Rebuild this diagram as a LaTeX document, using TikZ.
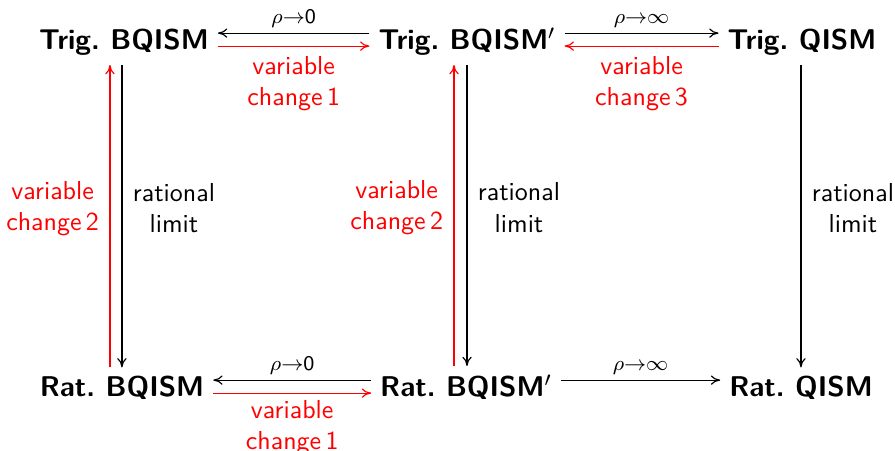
\documentclass[tikz,border=0pt]{standalone}
\usepackage{xcolor}
\usetikzlibrary{arrows.meta}
\begin{document}
\begin{tikzpicture}[x=0.385pt,y=-0.385pt,
  obj/.style={font=\fontsize{11}{13}\selectfont\sffamily\bfseries, anchor=base, inner sep=3.3pt},
  lab/.style={font=\sffamily, align=center, inner sep=1pt},
  rlab/.style={lab, text=red},
  small/.style={font=\fontsize{8}{9.6}\selectfont\sffamily, inner sep=1pt},
  arr/.style={-{Computer Modern Rightarrow[length=3.6pt,width=3.6pt]}, line width=0.45pt},
  rarr/.style={arr, draw=red}]
\useasboundingbox (0,0) rectangle (895,451);
\node[obj] (T1) at (124,50) {Trig.\ BQISM};
\node[obj] (T2) at (467,50) {Trig.\ BQISM$'$};
\node[obj] (T3) at (802,50) {Trig.\ QISM};
\node[obj] (R1) at (122,397) {Rat.\ BQISM};
\node[obj] (R2) at (466,397) {Rat.\ BQISM$'$};
\node[obj] (R3) at (801,397) {Rat.\ QISM};
% top row
\draw[arr] ([yshift=6.5pt]T2.base west) -- node[small, above=1pt] {$\rho{\to}$0} ([yshift=6.5pt]T1.base east);
\draw[rarr] ([yshift=1.5pt]T1.base east) -- node[rlab, below=2.8pt] {variable\\change\,1} ([yshift=1.5pt]T2.base west);
\draw[arr] ([yshift=6.5pt]T2.base east) -- node[small, above=1pt] {$\rho{\to}\infty$} ([yshift=6.5pt]T3.base west);
\draw[rarr] ([yshift=1.5pt]T3.base west) -- node[rlab, below=2.8pt] {variable\\change\,3} ([yshift=1.5pt]T2.base east);
% bottom row
\draw[arr] ([yshift=6.5pt]R2.base west) -- node[small, above=1pt] {$\rho{\to}$0} ([yshift=6.5pt]R1.base east);
\draw[rarr] ([yshift=1.5pt]R1.base east) -- node[rlab, below=1.6pt] {variable\\change\,1} ([yshift=1.5pt]R2.base west);
\draw[arr] ([yshift=6.5pt]R2.base east) -- node[small, above=1pt] {$\rho{\to}\infty$} ([yshift=6.5pt]R3.base west);
% verticals
\draw[arr] ([xshift=-0.8pt]T1.south) -- node[lab, right=3pt, yshift=3pt] {rational\\limit} ([xshift=-0.8pt]T1.south |- R1.north);
\draw[rarr] ([xshift=-5.4pt]T1.south |- R1.north) -- node[rlab, left=3pt, yshift=3pt] {variable\\change\,2} ([xshift=-5.4pt]T1.south);
\draw[arr] ([xshift=0pt]T2.south) -- node[lab, right=3pt, yshift=3pt] {rational\\limit} ([xshift=0pt]T2.south |- R2.north);
\draw[rarr] ([xshift=-5pt]T2.south |- R2.north) -- node[rlab, left=3pt, yshift=3pt] {variable\\change\,2} ([xshift=-5pt]T2.south);
\draw[arr] ([xshift=-0.4pt]T3.south) -- node[lab, right=3pt, yshift=3pt] {rational\\limit} ([xshift=-0.4pt]T3.south |- R3.north);
\end{tikzpicture}
\end{document}
